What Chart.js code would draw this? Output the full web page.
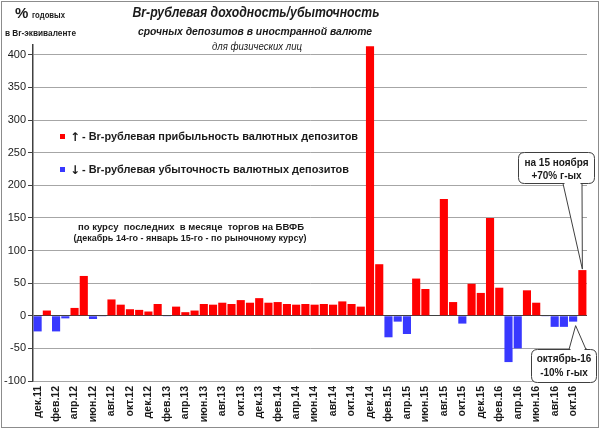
<!DOCTYPE html>
<html>
<head>
<meta charset="utf-8">
<script src="https://cdn.jsdelivr.net/npm/chart.js@4.4.1/dist/chart.umd.min.js"></script>
<style>
  html, body { margin: 0; padding: 0; background: #fff; }
</style>
</head>
<body>
<canvas id="chart" width="600" height="429"></canvas>
<script>
const months = [
  'дек.11', 'янв.12', 'фев.12', 'мар.12', 'апр.12', 'май.12', 'июн.12', 'июл.12', 'авг.12', 'сен.12', 'окт.12', 'ноя.12',
  'дек.12', 'янв.13', 'фев.13', 'мар.13', 'апр.13', 'май.13', 'июн.13', 'июл.13', 'авг.13', 'сен.13', 'окт.13', 'ноя.13',
  'дек.13', 'янв.14', 'фев.14', 'мар.14', 'апр.14', 'май.14', 'июн.14', 'июл.14', 'авг.14', 'сен.14', 'окт.14', 'ноя.14',
  'дек.14', 'янв.15', 'фев.15', 'мар.15', 'апр.15', 'май.15', 'июн.15', 'июл.15', 'авг.15', 'сен.15', 'окт.15', 'ноя.15',
  'дек.15', 'янв.16', 'фев.16', 'мар.16', 'апр.16', 'май.16', 'июн.16', 'июл.16', 'авг.16', 'сен.16', 'окт.16', 'ноя.16'
]

// % годовых в Br-эквиваленте
const values = [
  -24, 8, -24, -4, 12, 61, -5, -0.5, 25, 17, 10, 9,
  6.5, 18, -1, 14, 5.5, 8, 18, 17, 20, 18, 24, 20,
  27, 20, 21, 18, 17, 18, 17, 18, 17, 22, 18, 14,
  413, 79, -33, -9, -28, 57, 41, 0, 179, 21, -12, 49,
  35, 150, 43, -71, -50, 39, 20, -1, -17, -17, -9, 70
]

const yTicks = [ -100, -50, 0, 50, 100, 150, 200, 250, 300, 350, 400 ]

const RED = '#ff0000'
const BLUE = '#3838ff'
const INK = '#1a1a1a'
const FONT = '"Liberation Sans", Arial, sans-serif'

function text( ctx, s, x, y, font, align, maxW ) {
  ctx.font = font
  ctx.textAlign = align || 'left'
  if ( maxW ) ctx.fillText( s, x, y, maxW )
  else ctx.fillText( s, x, y )
}

function roundRect( ctx, x, y, w, h, r ) {
  ctx.beginPath()
  ctx.moveTo( x + r, y )
  ctx.lineTo( x + w - r, y )
  ctx.quadraticCurveTo( x + w, y, x + w, y + r )
  ctx.lineTo( x + w, y + h - r )
  ctx.quadraticCurveTo( x + w, y + h, x + w - r, y + h )
  ctx.lineTo( x + r, y + h )
  ctx.quadraticCurveTo( x, y + h, x, y + h - r )
  ctx.lineTo( x, y + r )
  ctx.quadraticCurveTo( x, y, x + r, y )
  ctx.closePath()
}

// box with a pointer; edgeY is the box edge the pointer leaves from
function callout( ctx, box, b1, b2, tip, edgeY, lines ) {
  ctx.save()
  ctx.strokeStyle = '#404040'
  ctx.lineWidth = 1
  ctx.fillStyle = '#fff'
  ctx.beginPath()
  ctx.moveTo( b1, edgeY )
  ctx.lineTo( tip.x, tip.y )
  ctx.lineTo( b2, edgeY )
  ctx.closePath()
  ctx.fill()
  ctx.beginPath()
  ctx.moveTo( b1, edgeY )
  ctx.lineTo( tip.x, tip.y )
  ctx.lineTo( b2, edgeY )
  ctx.stroke()
  roundRect( ctx, box.x + 0.5, box.y + 0.5, box.w, box.h, 6 )
  ctx.fill()
  ctx.stroke()
  ctx.strokeStyle = '#fff'
  ctx.lineWidth = 2
  ctx.beginPath()
  ctx.moveTo( b1 + 1.5, edgeY )
  ctx.lineTo( b2 - 1.5, edgeY )
  ctx.stroke()
  ctx.fillStyle = INK
  lines.forEach( l => text( ctx, l.s, box.x + box.w / 2 + 0.5, l.y, 'bold 10px ' + FONT, 'center' ) )
  ctx.restore()
}

const decor = {
  id: 'decor',
  beforeDraw( chart ) {
    const ctx = chart.ctx
    ctx.save()
    ctx.fillStyle = '#fff'
    ctx.fillRect( 0, 0, 600, 429 )
    ctx.strokeStyle = '#8c8c8c'
    ctx.lineWidth = 1
    ctx.strokeRect( 1.5, 1.5, 597, 426 )
    ctx.restore()
  },
  afterDraw( chart ) {
    const ctx = chart.ctx
    ctx.save()
    ctx.fillStyle = INK
    ctx.textBaseline = 'alphabetic'

    // titles
    text( ctx, 'Br-рублевая доходность/убыточность', 256, 17, 'italic bold 14px ' + FONT, 'center', 247 )
    text( ctx, 'срочных депозитов в иностранной валюте', 255, 35, 'italic bold 11px ' + FONT, 'center', 234 )
    text( ctx, 'для физических лиц', 257, 50, 'italic 10px ' + FONT, 'center', 90 )

    // unit caption
    text( ctx, '%', 15, 18, 'bold 15px ' + FONT, 'left' )
    text( ctx, 'годовых', 32, 18, 'bold 9.5px ' + FONT, 'left', 33 )
    text( ctx, 'в Br-эквиваленте', 5, 36, 'bold 9px ' + FONT, 'left', 71 )

    // legend
    ctx.fillStyle = RED
    ctx.fillRect( 60, 134, 5, 5 )
    ctx.fillStyle = BLUE
    ctx.fillRect( 60, 167, 5, 5 )
    ctx.fillStyle = INK
    text( ctx, '↑', 70, 141, 'bold 12px "DejaVu Sans", sans-serif', 'left' )
    text( ctx, '- Br-рублевая прибыльность валютных депозитов', 82, 140, 'bold 11px ' + FONT, 'left', 276 )
    text( ctx, '↓', 70, 174, 'bold 12px "DejaVu Sans", sans-serif', 'left' )
    text( ctx, '- Br-рублевая убыточность валютных депозитов', 82, 173, 'bold 11px ' + FONT, 'left', 267 )

    // note
    text( ctx, 'по курсу  последних  в месяце  торгов на БВФБ', 191, 230, 'bold 9.5px ' + FONT, 'center', 228 )
    text( ctx, '(декабрь 14-го - январь 15-го - по рыночному курсу)', 190, 241, 'bold 9.5px ' + FONT, 'center', 233 )

    // callouts pointing at the last two bars
    const meta = chart.getDatasetMeta( 0 )
    const nov = meta.data[ 59 ]
    const oct = meta.data[ 58 ]
    callout( ctx, { x: 518, y: 152, w: 76, h: 31 }, 563, 582,
      { x: nov.x, y: nov.y - 1 }, 183.5,
      [ { s: 'на 15 ноября', y: 166 }, { s: '+70% г-ых', y: 179 } ] )
    callout( ctx, { x: 531, y: 349, w: 65, h: 33 }, 569, 586,
      { x: oct.x + 2.5, y: oct.y + 4 }, 349.5,
      [ { s: 'октябрь-16', y: 362 }, { s: '-10% г-ых', y: 376 } ] )

    ctx.restore()
  }
}

new Chart( document.getElementById( 'chart' ), {
  type: 'bar',
  data: {
    labels: months,
    datasets: [
      {
        data: values,
        backgroundColor: values.map( v => v >= 0 ? RED : BLUE ),
        barPercentage: 0.88,
        categoryPercentage: 1,
        clip: false
      }
    ]
  },
  options: {
    responsive: false,
    animation: false,
    devicePixelRatio: 1,
    layout: { padding: { top: 45, right: 4, bottom: 4, left: 2 } },
    plugins: { legend: { display: false }, tooltip: { enabled: false } },
    scales: {
      x: {
        grid: { display: false, drawTicks: false },
        border: { display: false },
        ticks: {
          autoSkip: false,
          minRotation: 90,
          maxRotation: 90,
          padding: 5,
          color: INK,
          font: { family: FONT, size: 10.5, weight: 'bold' },
          callback: ( v, i ) => i % 2 === 0 ? months[ i ] : ''
        },
        afterFit( s ) { s.height = 44 }
      },
      y: {
        min: -100,
        max: 415,
        afterBuildTicks( s ) { s.ticks = yTicks.map( v => ( { value: v } ) ) },
        grid: {
          color: c => c.tick && c.tick.value === 0 ? '#404040' : '#a6a6a6',
          tickColor: '#404040',
          tickLength: 5
        },
        border: { color: '#404040', width: 1.5 },
        ticks: { color: INK, font: { family: FONT, size: 11 }, padding: 2 },
        afterFit( s ) { s.width = 31 }
      }
    }
  },
  plugins: [ decor ]
} )
</script>
</body>
</html>
